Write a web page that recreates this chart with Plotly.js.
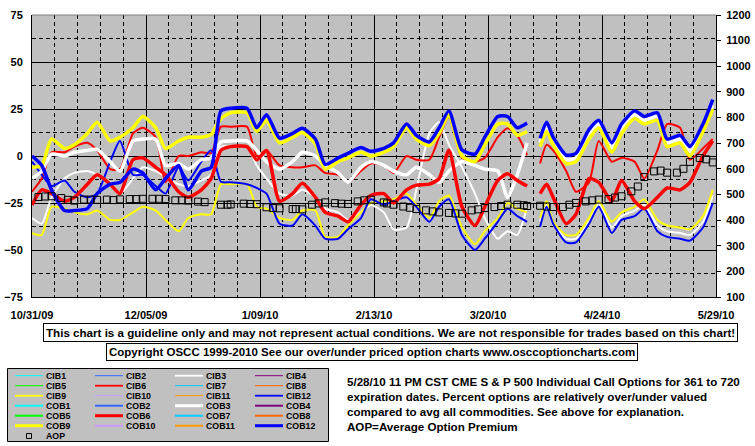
<!DOCTYPE html>
<html><head><meta charset="utf-8">
<script src="https://cdn.plot.ly/plotly-3.0.1.min.js"></script>
<style>html,body{margin:0;padding:0;background:#fff}#chart{width:755px;height:446px}</style>
</head><body><div id="chart"></div>
<script>
const dates = ['2009-10-31','2009-11-03','2009-11-06','2009-11-10','2009-11-13','2009-11-17','2009-11-20','2009-11-24','2009-11-27','2009-12-01','2009-12-04','2009-12-08','2009-12-11','2009-12-15','2009-12-18','2009-12-22','2009-12-25','2009-12-28','2009-12-31','2010-01-05','2010-01-08','2010-01-11','2010-01-15','2010-01-19','2010-01-22','2010-01-26','2010-01-29','2010-02-02','2010-02-05','2010-02-09','2010-02-12','2010-02-16','2010-02-19','2010-02-23','2010-02-26','2010-03-02','2010-03-05','2010-03-08','2010-03-12','2010-03-16','2010-03-19','2010-03-23','2010-03-26','2010-03-29','2010-04-01','2010-04-03','2010-04-05','2010-04-07','2010-04-09','2010-04-13','2010-04-16','2010-04-20','2010-04-23','2010-04-27','2010-04-30','2010-05-04','2010-05-07','2010-05-11','2010-05-14','2010-05-18','2010-05-21','2010-05-25','2010-05-28'];

const cob12 = [0,-5,-18,-29,-29,-28,-20,-15,-14,-7,-9,-18,-12,-5,-18,-8,-6,
 24,25.4,25.4,15,22,9.5,12,14.7,9,-4.5,-1,1.4,4.5,2.5,4.1,7,17,11,7.5,15,24,3.2,1,10,21,21,15,17.5,
 null,9.4,18,10,0.5,1.4,14,19,7,17,24,21,23,9,11,5,17,30];
const cob9 = [-6,-5,9,4,6,12,18,8,10,15,21,15,4,8,10,10,11.5,
 20,23,23,13,19,7,10,12.5,6.5,-7,-3,-1,2,0,2,5,15,9,5.5,12,22,0,-3,6,17,17,11,13,
 null,5,13,6,-4,-3,9,15,2,12,20,17,19,5,7,0,13,25];
const cob3 = [-12,-8,1,0,2,3,3.5,-3,-8,8,9,9,-5,-4,-7,-2,-1,
 7.5,8,8,3,-3,-7,-3,2,0,-5,-9,-14,-6,-3,-5,-8,-10,-6,-10,-14,-8,-3,-5,-7,-8,-22,-10,7,
 null,7,16,8,-2,-1,11,17,4.5,14.5,22,19,21,7,9,2.5,15,27];
const cib3 = [-33,-36,-22,-12,-9,-8,-10,-14,-20,-12,-6,-8,-11,-15,-16,-13,-10,
 5,5,5,-5,-12,-20,-21,-18,-22,-28,-30,-34,-30,-26,-30,-39,-38,-18,12,18,6,-6,-20,-33,-44,-40,-42,-27,
 null,-35,-26,-36,-44,-44,-35,-25,-38,-32,-29,-26,-37,-40,-41,-42,-35,-21];
const cob6 = [-26,-18,-20,-24,-22,-15,-10,-15,-20,-2,-1,-6,-10,-19,-22,-18,-12,
 3,5,5,-2,3,-24,-20,-14.5,-22,-30,-32,-35,-26,-21,-20,-25,-18,-15.5,-15,-12,3,-27,-37,-27,-13,-9.5,-13,-16,
 null,-20,-15,-22,-36,-31,-12,-14,-24,-13,-24,-28,-22,-17,-18,-14,0,8];
const cib6 = [-19,-12,2,2,5,7,3,-7,-7,12,15,10,-14,0,0,2,1.5,
 15.6,15.6,15.6,0,3,-5,-6,-6,-5,-9,-10,-14,-8,-4,-5,-9,0,-2,-2,10,21,-1,-3,-1,10,14.7,11,0.5,
 null,-4,6,3,-8,-19,-14,8,-3,-1,-3,-12,3,17,15,-2,4,9];
const cib9 = [-41,-42,-27,-28,-30,-31,-29,-34,-34,-30,-27,-29,-34,-40,-33,-31,-31,
 -15,-15,-15,-27,-28,-33,-34,-29,-29,-43,-43,-37,-30,-25,-24,-23,-20,-26,-33,-24,-21,-38,-47,-40,-33,-25,-28,-30,
 null,-33,-24,-35,-42,-42,-33,-24,-35,-30,-27,-23,-34,-37,-38,-39,-32,-18];
const cib12 = [-3,-10,-16,-13,-19,-22,-20,-3,8,-10,-10,-16,-20,-6,-13,-3,3,
 -13.7,-14,-15,-17,-20,-36,-37,-31,-37,-44,-44,-39,-33,-23,-26,-24,-22,-27,-35,-27,-23,-42,-50,-44,-35,-28,-32,-35,
 null,-37.6,-27,-36,-46,-46,-36,-27,-41,-34,-32,-28,-40,-43,-44,-45,-38,-25];

const aopDates = ['2009-11-02','2009-11-04','2009-11-06','2009-11-09','2009-11-11','2009-11-13','2009-11-16','2009-11-18','2009-11-20','2009-11-23','2009-11-25','2009-11-27','2009-11-30','2009-12-02','2009-12-04','2009-12-07','2009-12-09','2009-12-11','2009-12-14','2009-12-16','2009-12-18','2009-12-21','2009-12-23','2009-12-28','2009-12-30','2009-12-31','2010-01-04','2010-01-06','2010-01-08','2010-01-11','2010-01-13','2010-01-15','2010-01-19','2010-01-20','2010-01-22','2010-01-25','2010-01-27','2010-01-29','2010-02-01','2010-02-03','2010-02-05','2010-02-08','2010-02-10','2010-02-12','2010-02-16','2010-02-17','2010-02-19','2010-02-22','2010-02-24','2010-02-26','2010-03-01','2010-03-03','2010-03-05','2010-03-08','2010-03-10','2010-03-12','2010-03-15','2010-03-17','2010-03-19','2010-03-22','2010-03-24','2010-03-26','2010-03-29','2010-03-31','2010-04-01','2010-04-05','2010-04-07','2010-04-09','2010-04-12','2010-04-14','2010-04-16','2010-04-19','2010-04-21','2010-04-23','2010-04-26','2010-04-28','2010-04-30','2010-05-03','2010-05-05','2010-05-07','2010-05-10','2010-05-12','2010-05-14','2010-05-17','2010-05-19','2010-05-21','2010-05-24','2010-05-26','2010-05-28'];
const aopValues = [490,492,493, 486,479,476, 480,480,479, 480,478,481, 482,482,483, 483,483,482, 477,477,476, 472,470, 460,460,461, 464,463,462, 450,447,446, 443,443,442, 460,465,469, 466,464,463, 473,477,480, 469,465,460, 453,448,443, 438,434,430, 428,426,425, 438,442,447, 451,455,460, 460,458,455, 456,453,451, 451,460,467, 473,477,480, 482,488,493, 512,531,568, 590,593,585, 585,600,627, 642,637,625];

const xTickDates = ['2009-10-31','2009-12-05','2010-01-09','2010-02-13','2010-03-20','2010-04-24','2010-05-29'];
const xTickLabels = ['10/31/09','12/05/09','1/09/10','2/13/10','3/20/10','4/24/10','5/29/10'];
const leftTicks = [-75,-50,-25,0,25,50,75];
const rightTicks = [100,200,300,400,500,600,700,800,900,1000,1100,1200];

const legendNames = ['CIB1','CIB2','CIB3','CIB4','CIB5','CIB6','CIB7','CIB8','CIB9','CIB10','CIB11','CIB12',
 'COB1','COB2','COB3','COB4','COB5','COB6','COB7','COB8','COB9','COB10','COB11','COB12'];
const seriesColors = ['#00FFFF','#3366FF','#FFFFFF','#800080','#00FF00','#FF0000','#00CCFF','#FF6600','#FFFF00','#CC99FF','#FF9900','#0000FF'];

const noteText = 'This chart is a guideline only and may not represent actual conditions. We are not responsible for trades based on this chart!';
const copyrightText = 'Copyright OSCC 1999-2010 See our over/under priced option charts www.osccoptioncharts.com';
const descLines = ['5/28/10 11 PM CST CME S &amp; P 500 Individual Call Options for 361 to 720',
 'expiration dates. Percent options are relatively over/under valued',
 'compared to avg all commodities. See above for explanation.',
 'AOP=Average Option Premium'];

// ---- drawing ----
const FONT = 'Liberation Sans, Arial, sans-serif';
const W = 755, H = 446, ML = 32, MR = 39, MT = 15, MB = 149;
const PW = W - ML - MR, PH = H - MT - MB;
const px = x => (x - ML) / PW;
const py = y => (H - MB - y) / PH;

function colorOf(name){ const n = parseInt(name.replace(/\D/g,''),10); return seriesColors[n-1]; }
function widthOf(name){
  const n = parseInt(name.replace(/\D/g,''),10);
  const big = (n % 3 === 0);
  if (name.startsWith('COB')) return big ? 3.5 : 2.5;
  return big ? 2 : 1.2;
}
const seriesData = {CIB3: cib3, CIB6: cib6, CIB9: cib9, CIB12: cib12, COB3: cob3, COB6: cob6, COB9: cob9, COB12: cob12};

const traces = [];
legendNames.forEach(name => {
  if (!seriesData[name]) return;
  traces.push({type:'scatter', mode:'lines', name, x: dates, y: seriesData[name],
    line:{color: colorOf(name), width: widthOf(name), shape:'spline', smoothing:0.6}, connectgaps:false, hoverinfo:'skip', showlegend:false});
});
traces.push({type:'scatter', mode:'markers', name:'AOP', x: aopDates, y: aopValues, yaxis:'y2',
  marker:{symbol:'square-open', size:7, color:'#000', line:{width:1, color:'#000'}}, hoverinfo:'skip', showlegend:false});

const tickFont = {family: FONT, size: 11, color: '#000', weight: 700};
const shapes = [];
const annotations = [];

// top border of plot (grey)
shapes.push({type:'line', xref:'paper', yref:'paper', x0:0, x1:1, y0:1, y1:1, line:{color:'#808080', width:1}, layer:'above'});

// legend box
shapes.push({type:'rect', xref:'paper', yref:'paper', x0:px(7.5), x1:px(328.5), y0:py(368.5), y1:py(441.5),
  fillcolor:'#C0C0C0', line:{color:'#000', width:1}});
const LEG_FONT = {family:FONT, size:8.8, color:'#000', weight:700};
legendNames.forEach((name, i) => {
  const isCOB = name.startsWith('COB');
  const idx = isCOB ? i - 12 : i;
  const row = Math.floor(idx / 4) + (isCOB ? 3 : 0);
  const col = idx % 4;
  const yy = 375.7 + 10 * row;
  const x0 = 15 + 80 * col;
  shapes.push({type:'line', xref:'paper', yref:'paper', x0:px(x0), x1:px(x0 + 28), y0:py(yy), y1:py(yy),
    line:{color: colorOf(name), width: isCOB ? widthOf(name) - 0.5 : Math.max(1, widthOf(name) - 0.2)}});
  annotations.push({xref:'paper', yref:'paper', x:px(x0 + 30), y:py(yy), xanchor:'left', yanchor:'middle',
    text:name, showarrow:false, borderpad:0, font:LEG_FONT});
});
shapes.push({type:'rect', xref:'paper', yref:'paper', x0:px(26.5), x1:px(31.5), y0:py(433.5), y1:py(438.5),
  line:{color:'#000', width:1}, fillcolor:'rgba(0,0,0,0)'});
annotations.push({xref:'paper', yref:'paper', x:px(45), y:py(436), xanchor:'left', yanchor:'middle',
  text:'AOP', showarrow:false, borderpad:0, font:LEG_FONT});

// note boxes
annotations.push({xref:'paper', yref:'paper', x:px(390.3), y:py(332.2), xanchor:'center', yanchor:'middle',
  text:noteText, showarrow:false, bgcolor:'#fff', bordercolor:'#000', borderwidth:1, borderpad:2,
  font:{family:FONT, size:11.6, color:'#000', weight:700}});
annotations.push({xref:'paper', yref:'paper', x:px(372.2), y:py(352), xanchor:'center', yanchor:'middle',
  text:copyrightText, showarrow:false, bgcolor:'#fff', bordercolor:'#000', borderwidth:1, borderpad:2,
  font:{family:FONT, size:11.5, color:'#000', weight:700}});
annotations.push({xref:'paper', yref:'paper', x:px(345), y:py(373), xanchor:'left', yanchor:'top', align:'left',
  text:descLines.join('<br>'), showarrow:false, font:{family:FONT, size:11.6, color:'#000', weight:700}});

const layout = {
  width: W, height: H,
  margin: {l: ML, r: MR, t: MT, b: MB, pad: 0},
  paper_bgcolor: '#FFFFFF', plot_bgcolor: '#C0C0C0',
  font: {family: FONT, size: 11, color: '#000'},
  showlegend: false,
  xaxis: {type:'date', range:['2009-10-31','2010-05-29'], tickmode:'array', tickvals:xTickDates, ticktext:xTickLabels,
    showgrid:true, gridcolor:'#000', gridwidth:1, showline:true, linecolor:'#000', linewidth:1, ticks:'',
    tickfont: tickFont, ticklabelstandoff: 8, zeroline:false,
    minor:{tickmode:'linear', tick0:'2009-10-31', dtick: 7*86400000, showgrid:true, gridcolor:'#000', gridwidth:1, griddash:'4px,3px', ticks:''}},
  yaxis: {range:[-75,75], tickmode:'array', tickvals:leftTicks, showgrid:true, gridcolor:'#000', gridwidth:1,
    showline:true, linecolor:'#000', linewidth:1, ticks:'', zeroline:false, tickfont: tickFont, ticklabelstandoff: 6,
    minor:{tickmode:'linear', tick0:-75, dtick:12.5, showgrid:true, gridcolor:'#000', gridwidth:1, griddash:'4px,3px', ticks:''}},
  yaxis2: {overlaying:'y', side:'right', range:[100,1200], tickmode:'array', tickvals:rightTicks, showgrid:false,
    showline:true, linecolor:'#000', linewidth:1, ticks:'outside', ticklen:4, tickcolor:'#000', zeroline:false,
    tickfont: tickFont, ticklabelstandoff: 3},
  shapes, annotations
};

Plotly.newPlot('chart', traces, layout, {staticPlot:true, displayModeBar:false});
</script></body></html>
